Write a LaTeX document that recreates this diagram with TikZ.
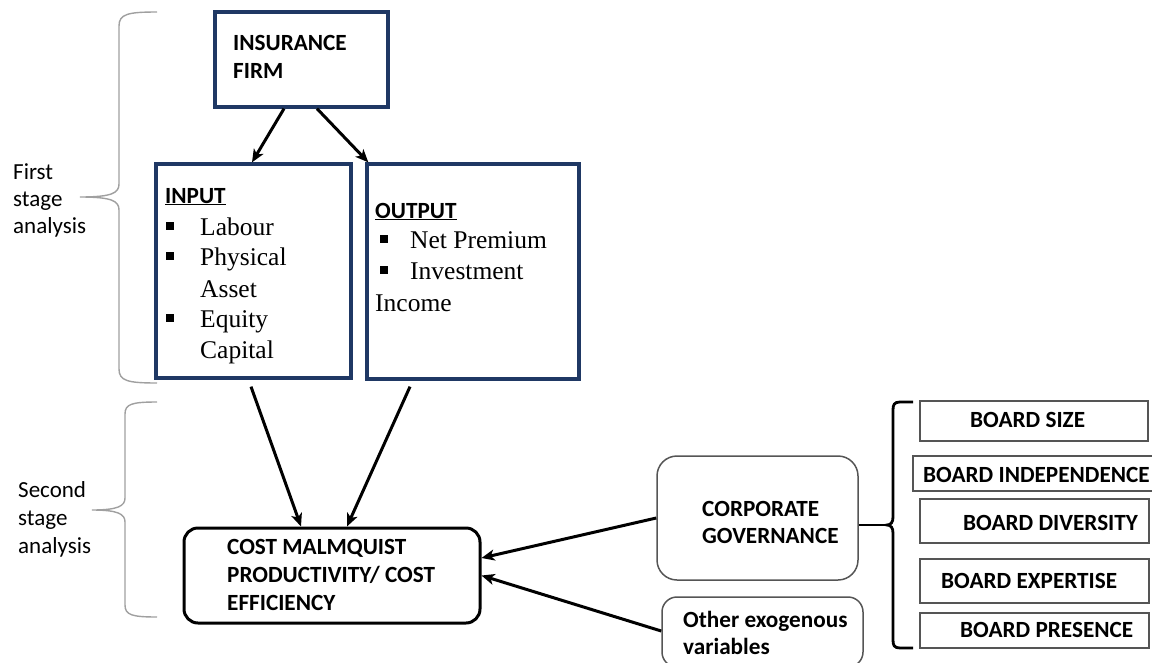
\documentclass[tikz,border=0pt]{standalone}
\usepackage{fontspec}
\setmainfont{Carlito}
\newfontfamily\tnr{Liberation Serif}
\usetikzlibrary{arrows.meta,calc}
\definecolor{navy}{RGB}{31,56,100}
\definecolor{bracegray}{RGB}{160,160,160}
\definecolor{boxgray}{RGB}{85,85,85}
\newcommand\sqb{\rule[5.5pt]{7.5pt}{7.5pt}}
\begin{document}
\begin{tikzpicture}[x=1pt,y=-1pt,
  navybox/.style={draw=navy,line width=3.3pt,inner sep=0pt},
  costbox/.style={draw=black,line width=3pt,rounded corners=14pt,inner sep=0pt},
  roundbox/.style={draw=boxgray,line width=1.5pt,rounded corners=20pt,inner sep=0pt},
  boardbox/.style={draw=boxgray,line width=1.5pt,inner sep=0pt},
  txt/.style={inner sep=0pt,anchor=base west},
  bsans/.style={txt,font=\fontsize{23.2}{27}\selectfont\bfseries},
  lsans/.style={txt,font=\fontsize{23}{27}\selectfont},
  serif/.style={txt,font=\fontsize{25.5}{30}\selectfont\tnr},
  arr/.style={line width=3pt,-{Stealth[length=13pt,width=11pt,inset=3.5pt]}},
  brace/.style={draw=bracegray,line width=1.4pt}]
\clip (0,0) rectangle (1152,662);
\fill[white] (0,0) rectangle (1152,662);

% boxes
\node[navybox,minimum width=173pt,minimum height=95pt] (firm) at (301.5,59.5) {};
\node[navybox,minimum width=195pt,minimum height=214pt] (input) at (253.5,271) {};
\node[navybox,minimum width=212pt,minimum height=215pt] (output) at (473,271.5) {};
\node[costbox,minimum width=296pt,minimum height=95pt] (cost) at (332,575.5) {};
\node[roundbox,minimum width=201pt,minimum height=124pt] (corp) at (757.5,518) {};
\node[roundbox,rounded corners=15pt,minimum width=201pt,minimum height=70pt] (other) at (762.5,632) {};
\node[boardbox,minimum width=228pt,minimum height=40pt] (bsize) at (1034,421) {};
\node[boardbox,minimum width=254pt,minimum height=35pt] (bind) at (1040,473.5) {};
\node[boardbox,minimum width=229pt,minimum height=44pt] (bdiv) at (1034.5,521) {};
\node[boardbox,minimum width=229pt,minimum height=44pt] (bexp) at (1034.5,581) {};
\node[boardbox,minimum width=229pt,minimum height=35pt] (bpres) at (1034.5,630.5) {};

% texts
\node[bsans] (t1) at (233,50) {INSURANCE};
\node[bsans] (t2) at (233,78) {FIRM};

\node[bsans] (tin) at (165,203) {\underline{INPUT}};
\node[serif] (bi1) at (166,235) {\sqb};
\node[serif] (ti1) at (200,235) {Labour};
\node[serif] (bi2) at (166,265) {\sqb};
\node[serif] (ti2) at (200,265) {Physical};
\node[serif] (ti3) at (200,297) {Asset};
\node[serif] (bi3) at (166,327) {\sqb};
\node[serif] (ti4) at (200,327) {Equity};
\node[serif] (ti5) at (200,358) {Capital};

\node[bsans] (tout) at (375,218) {\underline{OUTPUT}};
\node[serif] (bo1) at (380,248) {\sqb};
\node[serif] (to1) at (410,248) {Net Premium};
\node[serif] (bo2) at (380,279) {\sqb};
\node[serif] (to2) at (410,279) {Investment};
\node[serif] (to3) at (375,311) {Income};

\node[bsans] (c1) at (227,554) {COST MALMQUIST};
\node[bsans] (c2) at (227,582) {PRODUCTIVITY/ COST};
\node[bsans] (c3) at (227,610) {EFFICIENCY};

\node[bsans] (g1) at (702,516) {CORPORATE};
\node[bsans] (g2) at (702,543) {GOVERNANCE};

\node[bsans] (o1) at (683,627) {Other exogenous};
\node[bsans] (o2) at (683,654) {variables};

\node[bsans] (s1) at (970,427) {BOARD SIZE};
\node[bsans] (s2) at (923,482) {BOARD INDEPENDENCE};
\node[bsans] (s3) at (963,530) {BOARD DIVERSITY};
\node[bsans] (s4) at (941,588) {BOARD EXPERTISE};
\node[bsans] (s5) at (960,637) {BOARD PRESENCE};

\node[lsans] (f1) at (13,179) {First};
\node[lsans] (f2) at (13,206) {stage};
\node[lsans] (f3) at (13,233) {analysis};
\node[lsans] (e1) at (18,497) {Second};
\node[lsans] (e2) at (18,525) {stage};
\node[lsans] (e3) at (18,553) {analysis};

% arrows
\draw[arr] ([xshift=-17.5pt]firm.south) -- ([xshift=-1.5pt]input.north);
\draw[arr] ([xshift=15.5pt]firm.south) -- ([xshift=3pt]output.north west);
\draw[arr] ([shift={(-2.5,7)}]input.south) -- ([xshift=-31pt]cost.north);
\draw[arr] ([shift={(-63,6)}]output.south) -- ([xshift=15pt]cost.north);
\draw[arr] (corp.west) -- ([yshift=17.5pt]cost.east);
\draw[arr] ([yshift=1pt]other.west) -- (cost.east);

% left braces
\draw[brace] (157,12) .. controls (128,12) and (119,14) .. (119,26) -- (119,184)
  .. controls (119,193) and (112,197) .. (80,197)
  .. controls (112,197) and (119,201) .. (119,210) -- (119,369)
  .. controls (119,381) and (128,383) .. (157,383);
\draw[brace] (157,402) .. controls (132,402) and (125,404) .. (125,414) -- (125,498)
  .. controls (125,506) and (118,510) .. (92,510)
  .. controls (118,510) and (125,514) .. (125,522) -- (125,605)
  .. controls (125,615) and (132,617) .. (157,617);

% right brace
\coordinate (bp) at (887,525);
\draw[line width=2.8pt] (913,402) -- (900,402) .. controls (894,402) and (893,405) .. (893,410) -- (893,517)
  .. controls (893,522) and (891,525) .. (bp)
  .. controls (891,525) and (893,528) .. (893,533) -- (893,640)
  .. controls (893,645) and (894,648) .. (900,648) -- (913,648);
\draw[line width=2.8pt] (corp.east |- bp) -- (bp);
\end{tikzpicture}
\end{document}
